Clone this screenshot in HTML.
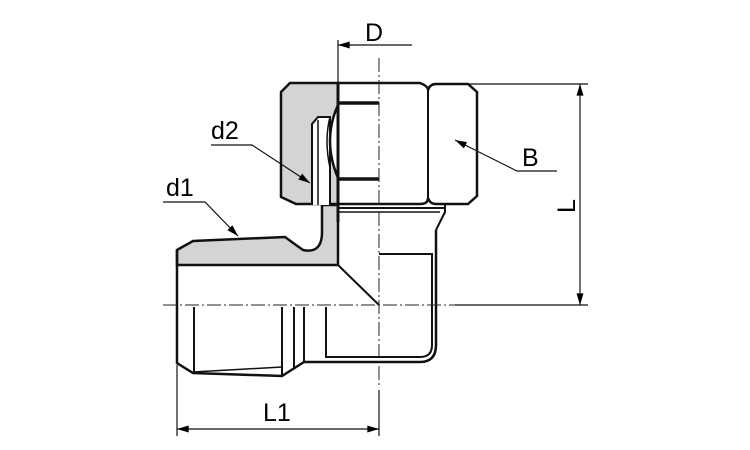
<!DOCTYPE html>
<html><head><meta charset="utf-8"><style>
html,body{margin:0;padding:0;background:#fff;}
svg{display:block}
text{font-family:"Liberation Sans",sans-serif;fill:#000}
</style></head><body>
<svg width="750" height="450" viewBox="0 0 750 450" xmlns="http://www.w3.org/2000/svg">
<defs>
<marker id="a" viewBox="0 0 10 6" refX="10" refY="3" markerWidth="17" markerHeight="7" markerUnits="userSpaceOnUse" orient="auto"><path d="M0,0 L10,3 L0,6 Z" fill="#000"/></marker>
</defs>
<g stroke="#111" fill="none">
<path d="M290,83 L338,83 L338,204 L296,204 L281,197 L281,92 Z" fill="#d4d4d4" stroke-width="2.5"/>
<path d="M177,250 L193,241 L285,237 L296,245 L303,250 Q322,254 322,232 L322,205 L338,205 L338,265 L177,265 Z" fill="#d4d4d4" stroke-width="2.5"/>
<path d="M312,205 L312,124 L318,117 L330,117 L330,205" fill="#fff" stroke-width="2"/>
<line x1="318" y1="120" x2="318" y2="205" stroke-width="1.5"/>
<path d="M338,105 Q322,140 338,178" fill="#fff" stroke-width="2.5"/>
<path d="M330,117 Q324,140 330,168" stroke-width="1.5"/>
<path d="M338,83 L420,83 Q428,86 428,90 Q430,84 436,84 L468,84 L477,92 L477,196 L468,204 L436,204 Q430,204 428,198 Q428,204 420,204 L338,204" fill="#fff" stroke-width="2.5"/>
<line x1="428" y1="88" x2="428" y2="200" stroke-width="2"/>
<line x1="338" y1="83" x2="338" y2="222" stroke-width="3"/>
<line x1="338" y1="103" x2="379" y2="103" stroke-width="3.5"/>
<line x1="338" y1="179" x2="379" y2="179" stroke-width="3.5"/>
<line x1="338" y1="208" x2="444" y2="208" stroke-width="2"/>
<line x1="338" y1="212" x2="440" y2="212" stroke-width="1.5"/>
<path d="M445,204 L445,212 L436,230" stroke-width="2"/>
<path d="M436,230 L436,345 Q436,362 420,362 L304,362" stroke-width="2.5"/>
<path d="M379,254 L432,254 L432,345 Q432,357 420,357 L326,357 L326,307" stroke-width="2"/>
<line x1="338" y1="265" x2="379" y2="305" stroke-width="2"/>
<path d="M177,250 L177,363 L193,373 L282,376 L293,369 L304,362" stroke-width="2.5"/>
<line x1="193" y1="372" x2="282" y2="367" stroke-width="1.5"/>
<line x1="194" y1="307" x2="194" y2="372" stroke-width="2"/>
<line x1="282" y1="307" x2="282" y2="376" stroke-width="2"/>
<line x1="294" y1="307" x2="294" y2="369" stroke-width="2"/>
<line x1="304" y1="307" x2="304" y2="362" stroke-width="2"/>
<line x1="379" y1="58" x2="379" y2="388" stroke="#223" stroke-width="1" stroke-dasharray="14,3,2,3"/>
<line x1="163" y1="305" x2="460" y2="305" stroke="#223" stroke-width="1" stroke-dasharray="14,3,2,3"/>
<line x1="338" y1="40" x2="338" y2="83" stroke-width="1.2"/>
<line x1="412" y1="45" x2="338" y2="45" stroke-width="1.2" marker-end="url(#a)"/>
<line x1="465" y1="84" x2="588" y2="84" stroke-width="1.2"/>
<line x1="455" y1="305" x2="588" y2="305" stroke-width="1.2"/>
<line x1="580" y1="195" x2="580" y2="84" stroke-width="1.2" marker-end="url(#a)"/>
<line x1="580" y1="195" x2="580" y2="305" stroke-width="1.2" marker-end="url(#a)"/>
<line x1="177" y1="365" x2="177" y2="436" stroke-width="1.2"/>
<line x1="379" y1="390" x2="379" y2="436" stroke-width="1.2"/>
<line x1="278" y1="429" x2="177" y2="429" stroke-width="1.2" marker-end="url(#a)"/>
<line x1="278" y1="429" x2="379" y2="429" stroke-width="1.2" marker-end="url(#a)"/>
<polyline points="557,171 517,171 455,140" stroke-width="1.2" marker-end="url(#a)"/>
<polyline points="211,145 252,145 310,183" stroke-width="1.2" marker-end="url(#a)"/>
<polyline points="163,202 205,202 238,236" stroke-width="1.2" marker-end="url(#a)"/>
</g>
<text x="365" y="41" font-size="25">D</text>
<text x="522" y="166" font-size="25">B</text>
<text x="211" y="139" font-size="25">d2</text>
<text x="166" y="196" font-size="25">d1</text>
<text x="263" y="421" font-size="25">L1</text>
<text x="0" y="0" font-size="25" transform="translate(575,213) rotate(-90)">L</text>
</svg>
</body></html>
